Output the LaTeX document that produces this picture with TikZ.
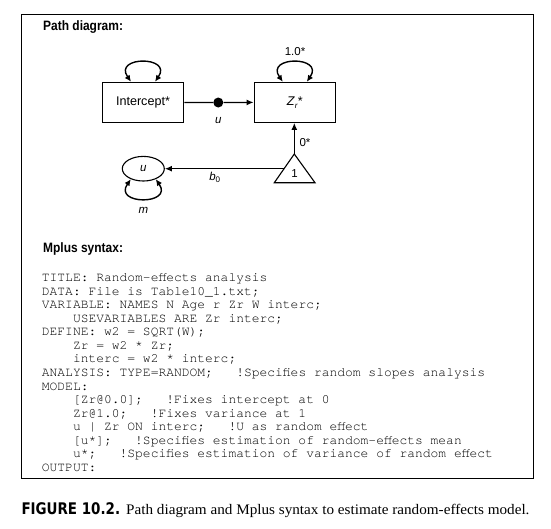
\documentclass[tikz,border=0pt]{standalone}
\usepackage{fontspec}
\setmainfont{Liberation Serif}
\setsansfont{Liberation Sans}
\setmonofont{TeX Gyre Cursor}
\newfontfamily\headfont[FakeStretch=0.88]{Liberation Sans}
\newfontfamily\figfont[FakeStretch=0.84]{DejaVu Sans}
\newfontfamily\capfont[FakeStretch=1.04]{Liberation Serif}
\usetikzlibrary{arrows.meta,shapes.geometric}
\tikzset{
  box/.style={draw, line width=1.1pt, minimum width=81.4pt, minimum height=40pt, inner sep=0pt, font=\sffamily\fontsize{12.6}{14}\selectfont},
  arr/.style={line width=1.3pt, -{Latex[length=7pt,width=6pt]}},
  loopar/.style={line width=1.4pt, {Latex[length=6.5pt,width=6pt]}-{Latex[length=6.5pt,width=6pt]}},
  lbl/.style={inner sep=0pt, font=\sffamily\itshape\fontsize{11.5}{13}\selectfont},
  num/.style={inner sep=0pt, font=\sffamily\fontsize{11.5}{13}\selectfont},
  head/.style={anchor=base west, inner sep=0pt, font=\headfont\bfseries\fontsize{13.6}{15}\selectfont},
  code/.style={anchor=base west, inner sep=0pt, text=black, font=\ttfamily\fontsize{12.96}{14}\selectfont}
}
\begin{document}
\begin{tikzpicture}[x=1pt,y=-1pt]
\useasboundingbox (0,0) rectangle (551,528);
% frame
\draw[line width=1.1pt] (21.3,14.3) rectangle (533.3,478.3);
% headings
\node[head] (ph) at (43,30.7) {Path diagram:};
\node[head] (ms) at (43,252.2) {Mplus syntax:};
% diagram
\node[box] (int) at (143,102.3) {Intercept*};
\node[box] (zr) at (294.8,102.3) {\textit{Z}\raisebox{-3pt}{\fontsize{8}{8}\selectfont\textit{r}}*};
\node[circle, fill, inner sep=0pt, minimum size=10pt] (dot) at (218.3,102.5) {};
\draw[line width=1.3pt] (int) -- (dot);
\draw[arr] (dot) -- (zr);
\node[lbl] (ulab) at (218.3,121) {u};
\draw[loopar] ([xshift=-12pt]int.north) .. controls +(-18,-26) and +(18,-26) .. ([xshift=12pt]int.north);
\draw[loopar] ([xshift=-12pt]zr.north) .. controls +(-18,-26) and +(18,-26) .. ([xshift=12pt]zr.north);
\node[num] (l10) at (295,52) {1.0*};
% triangle
\coordinate (tritop) at (294.3,154);
\coordinate (tribl) at (274.3,182.7);
\coordinate (tribr) at (315,182.7);
\coordinate (trileft) at (284,168.7);
\draw[line width=1.1pt, line join=miter] (tribl) -- (tritop) -- (tribr) -- cycle;
\node[num] (one) at (294.5,174) {1};
\draw[arr] (tritop) -- (tritop |- zr.south);
\node[num] (l0) at (305,142.7) {0*};
% ellipse u
\node[draw, ellipse, line width=1.1pt, minimum width=42pt, minimum height=24.6pt, inner sep=0pt, font=\sffamily\itshape\fontsize{11.5}{13}\selectfont] (u) at (143.3,168.7) {u};
\draw[arr] (trileft) -- (u);
\node[lbl] (b0) at (215,177.7) {b\textsubscript{\upshape 0}};
\draw[loopar] (u.220) .. controls +(-18,26) and +(18,26) .. (u.320);
\node[lbl] (mlab) at (143.3,210.7) {m};
% code
\node[code] (c1) at (41.7,281.6) {TITLE: Random-effects analysis};
\node[code] (c2) at (41.7,295.15) {DATA: File is Table10\_1.txt;};
\node[code] (c3) at (41.7,308.7) {VARIABLE: NAMES N Age r Zr W interc;};
\node[code] (c4) at (41.7,322.25) {~~~~USEVARIABLES ARE Zr interc;};
\node[code] (c5) at (41.7,335.8) {DEFINE: w2 = SQRT(W);};
\node[code] (c6) at (41.7,349.35) {~~~~Zr = w2 * Zr;};
\node[code] (c7) at (41.7,362.9) {~~~~interc = w2 * interc;};
\node[code] (c8) at (41.7,376.45) {ANALYSIS: TYPE=RANDOM;~~~!Specifies random slopes analysis};
\node[code] (c9) at (41.7,390) {MODEL:};
\node[code] (c10) at (41.7,403.55) {~~~~[Zr@0.0];~~~!Fixes intercept at 0};
\node[code] (c11) at (41.7,417.1) {~~~~Zr@1.0;~~~!Fixes variance at 1};
\node[code] (c12) at (41.7,430.65) {~~~~u | Zr ON interc;~~~!U as random effect};
\node[code] (c13) at (41.7,444.2) {~~~~[u*];~~~!Specifies estimation of random-effects mean};
\node[code] (c14) at (41.7,457.75) {~~~~u*;~~~!Specifies estimation of variance of random effect};
\node[code] (c15) at (41.7,471.3) {OUTPUT:};
% caption
\node[anchor=base west, inner sep=0pt, font=\figfont\bfseries\fontsize{16}{18}\selectfont] (figno) at (21.3,514) {FIGURE 10.2.};
\node[anchor=base west, inner sep=0pt, font=\capfont\fontsize{14.6}{17}\selectfont] (captext) at (126,514) {Path diagram and Mplus syntax to estimate random-effects model.};
\end{tikzpicture}
\end{document}
